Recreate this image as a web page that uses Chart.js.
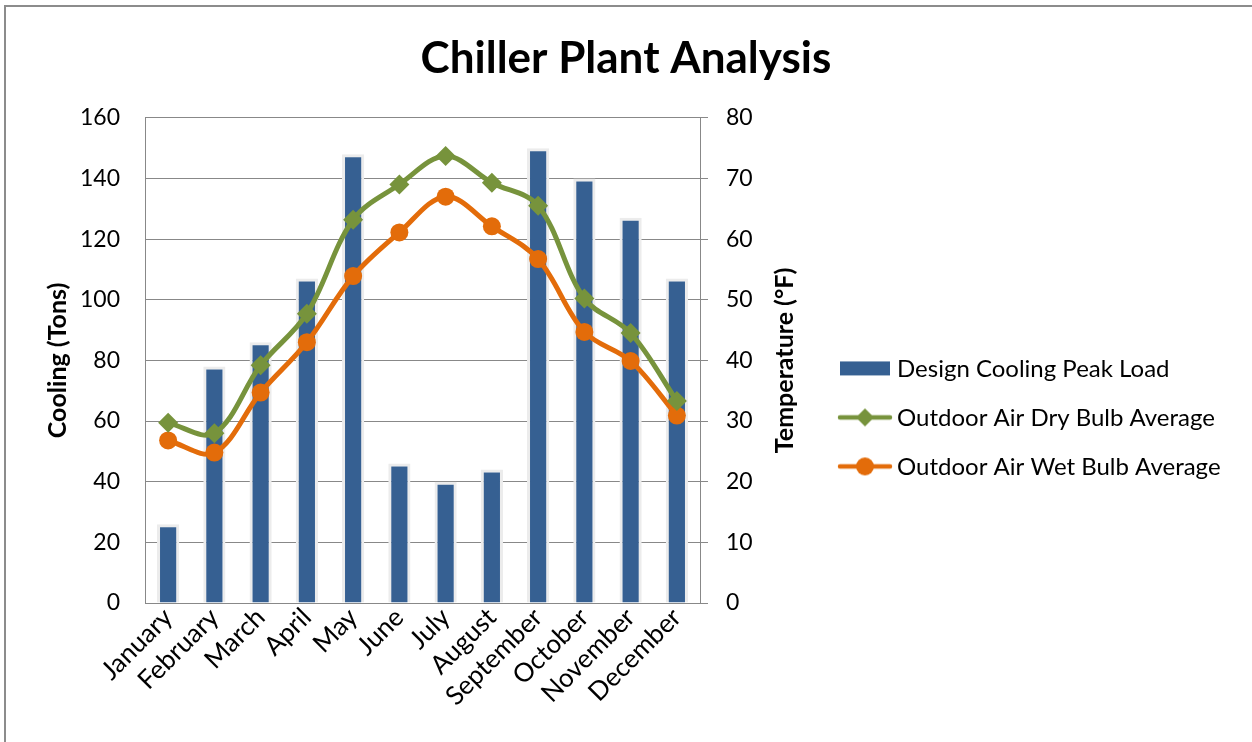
<!DOCTYPE html>
<html>
<head>
<meta charset="utf-8">
<script src="https://cdn.jsdelivr.net/npm/chart.js"></script>
<style>
  body { margin: 0; background: #fff; }
  #wrap { position: relative; width: 1252px; height: 742px; overflow: hidden; }
  #frame { position: absolute; left: 4px; top: 5px; width: 1300px; height: 800px;
           border-left: 2px solid #8c8c8c; border-top: 2px solid #8c8c8c; pointer-events: none; }
</style>
</head>
<body>
<div id="wrap">
  <canvas id="myChart" width="1252" height="742"></canvas>
  <div id="frame"></div>
</div>
<script>
var months = ["January", "February", "March", "April", "May", "June", "July", "August", "September", "October", "November", "December"];
var peakLoad = [26, 78, 86, 107, 148, 46, 40, 44, 150, 140, 127, 107];
var dryBulb = [29.7, 28, 39.2, 47.7, 63.2, 69, 73.7, 69.3, 65.5, 50.2, 44.5, 33.3];
var wetBulb = [26.8, 24.8, 34.7, 43, 53.9, 61.1, 67, 62.1, 56.7, 44.7, 39.9, 30.9];
var coolingTicks = [0, 20, 40, 60, 80, 100, 120, 140, 160];
var tempTicks = [0, 10, 20, 30, 40, 50, 60, 70, 80];

var blue = "#366092", green = "#77933c", orange = "#e36c0a";
var fontName = "Lato, 'Open Sans', sans-serif";

// little pictures for the legend (box, line+diamond, line+circle)
function legendIcon(kind, color) {
  var c = document.createElement("canvas");
  c.width = 56; c.height = 22;
  var g = c.getContext("2d");
  g.fillStyle = color; g.strokeStyle = color;
  if (kind == "bar") {
    g.fillRect(3, 4, 50, 14);
  } else {
    g.lineWidth = 4.5;
    g.lineCap = "round";
    g.beginPath(); g.moveTo(3, 11); g.lineTo(53, 11); g.stroke();
    g.beginPath();
    if (kind == "diamond") {
      g.moveTo(28, 2); g.lineTo(37, 11); g.lineTo(28, 20); g.lineTo(19, 11);
    } else {
      g.arc(28, 11, 9, 0, Math.PI * 2);
    }
    g.closePath(); g.fill();
  }
  return c;
}
var icons = [legendIcon("bar", blue), legendIcon("diamond", green), legendIcon("circle", orange)];

// right axis title reads bottom-to-top like the left one
var rightTitle = {
  id: "rightTitle",
  afterDraw: function (chart) {
    var a = chart.chartArea, ctx = chart.ctx;
    ctx.save();
    ctx.translate(a.right + 85, (a.top + a.bottom) / 2);
    ctx.rotate(-Math.PI / 2);
    ctx.font = "bold 25px " + fontName;
    ctx.fillStyle = "#000";
    ctx.textAlign = "center";
    ctx.textBaseline = "middle";
    ctx.fillText("Temperature (°F)", 0, 0);
    ctx.restore();
  }
};

// legend drawn beside the right axis (built-in one gets squeezed)
var sideLegend = {
  id: "sideLegend",
  afterDraw: function (chart) {
    var a = chart.chartArea, ctx = chart.ctx;
    var x = a.right + 138, y = (a.top + a.bottom) / 2 + 8;
    ctx.save();
    ctx.font = "24px " + fontName;
    ctx.fillStyle = "#000";
    ctx.textBaseline = "middle";
    chart.data.datasets.forEach(function (ds, i) {
      var cy = y + i * 49;
      ctx.drawImage(icons[i], x - 1, cy - 11);
      ctx.fillText(ds.label, x + 59, cy + 1);
    });
    ctx.restore();
  }
};

new Chart("myChart", {
  data: {
    labels: months,
    datasets: [
      {
        type: "bar",
        label: "Design Cooling Peak Load",
        data: peakLoad,
        yAxisID: "y",
        backgroundColor: blue,
        borderColor: "#ececec",
        borderWidth: 3,
        borderSkipped: "bottom",
        barPercentage: 0.48,
        categoryPercentage: 1,
        order: 1
      },
      {
        type: "line",
        label: "Outdoor Air Dry Bulb Average",
        data: dryBulb,
        yAxisID: "y1",
        borderColor: green,
        backgroundColor: green,
        borderWidth: 5,
        tension: 0.35,
        pointStyle: "rectRot",
        pointRadius: 10,
        pointBorderWidth: 0,
        fill: false,
        order: 0
      },
      {
        type: "line",
        label: "Outdoor Air Wet Bulb Average",
        data: wetBulb,
        yAxisID: "y1",
        borderColor: orange,
        backgroundColor: orange,
        borderWidth: 5,
        tension: 0.35,
        pointStyle: "circle",
        pointRadius: 9,
        pointBorderWidth: 0,
        fill: false,
        order: 0
      }
    ]
  },
  options: {
    responsive: false,
    animation: false,
    layout: { padding: { left: 0, right: 0, top: 0, bottom: 29 } },
    plugins: {
      title: {
        display: true,
        text: "Chiller Plant Analysis",
        color: "#000",
        font: { family: fontName, size: 44, weight: "bold" },
        padding: { top: 32, bottom: 33 }
      },
      legend: { display: false },
      tooltip: { enabled: false }
    },
    scales: {
      x: {
        grid: { display: false },
        border: { display: true, color: "#888" },
        ticks: {
          color: "#000",
          font: { family: fontName, size: 26 },
          maxRotation: 45,
          minRotation: 45,
          autoSkip: false,
          padding: -9
        },
        afterFit: function (s) { s.paddingLeft = 0; s.paddingRight = 0; s.height = 110; }
      },
      y: {
        position: "left",
        min: 0,
        max: 160,
        afterBuildTicks: function (s) { s.ticks = coolingTicks.map(function (v) { return { value: v }; }); },
        grid: { color: "#888", drawTicks: false },
        border: { display: true, color: "#888" },
        ticks: { color: "#000", font: { family: fontName, size: 23 }, padding: 25 },
        title: {
          display: true,
          text: "Cooling (Tons)",
          color: "#000",
          font: { family: fontName, size: 25, weight: "bold" },
          padding: { top: 43, bottom: 4 }
        },
        afterFit: function (s) { s.width = 145; }
      },
      y1: {
        position: "right",
        min: 0,
        max: 80,
        afterBuildTicks: function (s) { s.ticks = tempTicks.map(function (v) { return { value: v }; }); },
        grid: { drawOnChartArea: false, drawTicks: true, tickLength: 8, color: "#888" },
        border: { display: true, color: "#888" },
        ticks: { color: "#000", font: { family: fontName, size: 23 }, padding: 18 },
        afterFit: function (s) { s.width = 552; }
      }
    }
  },
  plugins: [rightTitle, sideLegend]
});
</script>
</body>
</html>
